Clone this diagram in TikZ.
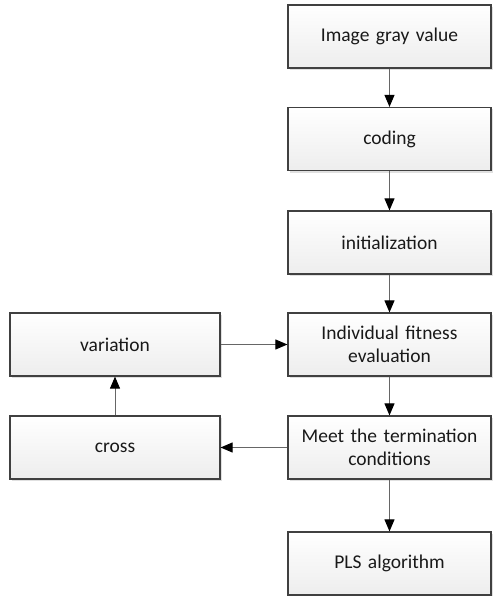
\documentclass[tikz,border=0pt]{standalone}
\usepackage{fontspec}
\setmainfont{Carlito}
\usetikzlibrary{arrows.meta,shadows}

\begin{document}
\begin{tikzpicture}[x=1pt,y=-1pt,
  box/.style={draw=black!75, line width=1.2pt,
    top color=white, bottom color=black!7,
    drop shadow={shadow xshift=2pt, shadow yshift=-2pt, fill=black!12, opacity=1},
    align=center, font=\fontsize{19.5}{23}\selectfont, text=black!90,
    minimum height=63pt, inner sep=2pt},
  rbox/.style={box, minimum width=203pt, text width=198pt},
  lbox/.style={box, minimum width=210pt, text width=200pt},
  arr/.style={draw=black!60, line width=1pt,
    -{Triangle[length=12pt,width=10pt,color=black]}}]
\useasboundingbox (0,0) rectangle (493,596);

% main column
\node[rbox] (gray) at (389.5,36.5) {Image gray value};
\node[rbox] (code) at (389.5,139) {coding};
\node[rbox] (init) at (389.5,242.5) {initialization};
\node[rbox] (fit)  at (389.5,344.5) {Individual fitness\\evaluation};
\node[rbox] (term) at (389.5,447.5) {Meet the termination\\conditions};
\node[rbox] (pls)  at (389.5,563.5) {PLS algorithm};

% genetic operators loop
\node[lbox] (var)   at (115,344.5) {variation};
\node[lbox] (cross) at (115,447.5) {cross};

\draw[arr] (gray) -- (code);
\draw[arr] (code) -- (init);
\draw[arr] (init) -- (fit);
\draw[arr] (fit) -- (term);
\draw[arr] (term) -- (pls);
\draw[arr] (term) -- (cross);
\draw[arr] (cross) -- (var);
\draw[arr] (var) -- (fit);
\end{tikzpicture}
\end{document}
